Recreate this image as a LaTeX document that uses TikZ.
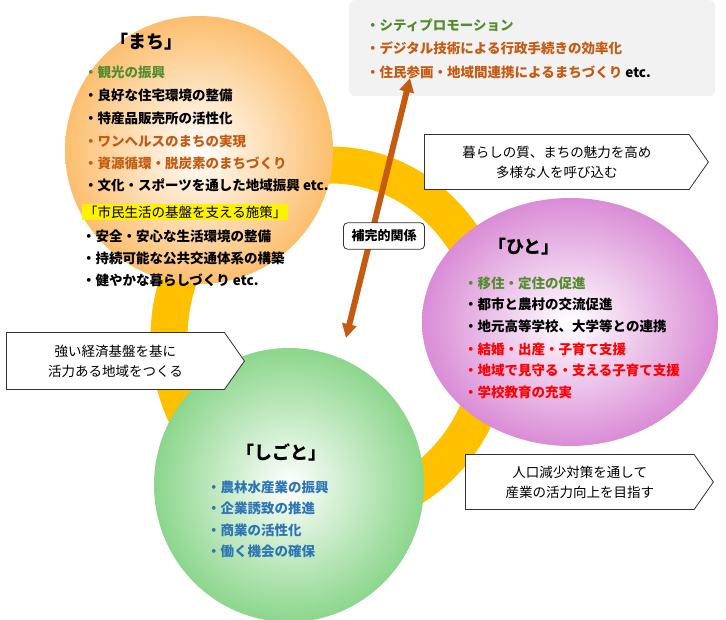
\documentclass[tikz,border=0pt]{standalone}
\usepackage{fontspec}
\setmainfont{Noto Sans CJK JP}
\usetikzlibrary{arrows.meta, positioning, shapes.symbols, shapes.arrows}
\definecolor{ringgold}{RGB}{255, 192, 0}
\definecolor{txtgreen}{RGB}{84, 140, 48}
\definecolor{txtorange}{RGB}{197, 90, 17}
\definecolor{txtred}{RGB}{255, 0, 0}
\definecolor{txtblue}{RGB}{46, 117, 182}
\definecolor{boxgray}{RGB}{242, 242, 242}
\definecolor{machiedge}{RGB}{252, 190, 110}
\definecolor{hitoedge}{RGB}{218, 140, 214}
\definecolor{shigotoedge}{RGB}{140, 214, 140}

\begin{document}
\begin{tikzpicture}[x=1pt, y=-1pt,
    item/.style={anchor=west, inner sep=0pt, font=\fontsize{13.5}{15}\selectfont\bfseries},
    title/.style={anchor=west, inner sep=0pt, font=\fontsize{18}{20}\selectfont\bfseries},
    callout/.style={draw=black!80, thick, fill=white, signal, signal to=east, signal pointer angle=110,
        align=center, font=\fontsize{13.5}{20}\selectfont, inner xsep=14pt, inner ysep=5pt},
    relarrow/.style={{Triangle[length=14pt, width=14pt]}-{Triangle[length=14pt, width=14pt]}, line width=6pt, txtorange}
]
\useasboundingbox (0,0) rectangle (726,620);

% Ring
\draw[ringgold, line width=37pt] (331,338) ellipse (162pt and 173pt);

% Top gray box
\node[fill=boxgray, rounded corners=6pt, minimum width=366pt, minimum height=96pt, anchor=north west] (city) at (349,0) {};
\node[item, txtgreen] (c1) at (366,25) {・シティプロモーション};
\node[item, txtorange] (c2) at (366,48) {・デジタル技術による行政手続きの効率化};
\node[item, txtorange] (c3) at (366,72) {・住民参画・地域間連携によるまちづくり~\textcolor{black}{etc.}};

% Circles
\shade[inner color=white, outer color=machiedge] (199,150) ellipse (134pt and 134pt);
\shade[inner color=white, outer color=hitoedge] (570,322) ellipse (148pt and 124pt);
\shade[inner color=white, outer color=shigotoedge] (289,485) ellipse (135pt and 137pt);

% Machi
\node[title] (machi) at (110,42) {「まち」};
\node[item, txtgreen] (m1) at (84,72) {・観光の振興};
\node[item] (m2) at (84,95) {・良好な住宅環境の整備};
\node[item] (m3) at (84,118) {・特産品販売所の活性化};
\node[item, txtorange] (m4) at (84,141) {・ワンヘルスのまちの実現};
\node[item, txtorange] (m5) at (84,163) {・資源循環・脱炭素のまちづくり};
\node[item] (m6) at (84,185) {・文化・スポーツを通した地域振興~etc.};
\node[item, fill=yellow, inner xsep=2pt, inner ysep=2pt, font=\fontsize{13.5}{15}\selectfont] (base) at (82,212) {「市民生活の基盤を支える施策」};
\node[item] (m7) at (82,236) {・安全・安心な生活環境の整備};
\node[item] (m8) at (82,258) {・持続可能な公共交通体系の構築};
\node[item] (m9) at (82,280) {・健やかな暮らしづくり~etc.};

% Hito
\node[title] (hito) at (488,247) {「ひと」};
\node[item, txtgreen] (h1) at (464,283) {・移住・定住の促進};
\node[item] (h2) at (464,304) {・都市と農村の交流促進};
\node[item] (h3) at (464,326) {・地元高等学校、大学等との連携};
\node[item, txtred] (h4) at (464,349) {・結婚・出産・子育て支援};
\node[item, txtred] (h5) at (464,370) {・地域で見守る・支える子育て支援};
\node[item, txtred] (h6) at (464,392) {・学校教育の充実};

% Shigoto
\node[title] (shigoto) at (236,452) {「しごと」};
\node[item, txtblue] (s1) at (207,487) {・農林水産業の振興};
\node[item, txtblue] (s2) at (207,508) {・企業誘致の推進};
\node[item, txtblue] (s3) at (207,530) {・商業の活性化};
\node[item, txtblue] (s4) at (207,551) {・働く機会の確保};

% Relation arrow
\coordinate (atop) at (410,78);
\coordinate (abot) at (346,338);
\draw[relarrow] (abot) -- (atop);
\node[draw=black!80, thick, fill=white, rounded corners=4pt, font=\fontsize{13}{15}\selectfont\bfseries, inner xsep=8pt, inner ysep=7pt] (rel) at (384,236) {補完的関係};

% Callouts
\node[callout, minimum width=284pt, minimum height=55pt, anchor=west] (q1) at (424,162) {暮らしの質、まちの魅力を高め\\多様な人を呼び込む};
\node[callout, minimum width=238pt, minimum height=57pt, anchor=west] (q2) at (6,361) {強い経済基盤を基に\\活力ある地域をつくる};
\node[callout, minimum width=248pt, minimum height=55pt, anchor=west] (q3) at (465,482) {人口減少対策を通して\\産業の活力向上を目指す};
\end{tikzpicture}
\end{document}
